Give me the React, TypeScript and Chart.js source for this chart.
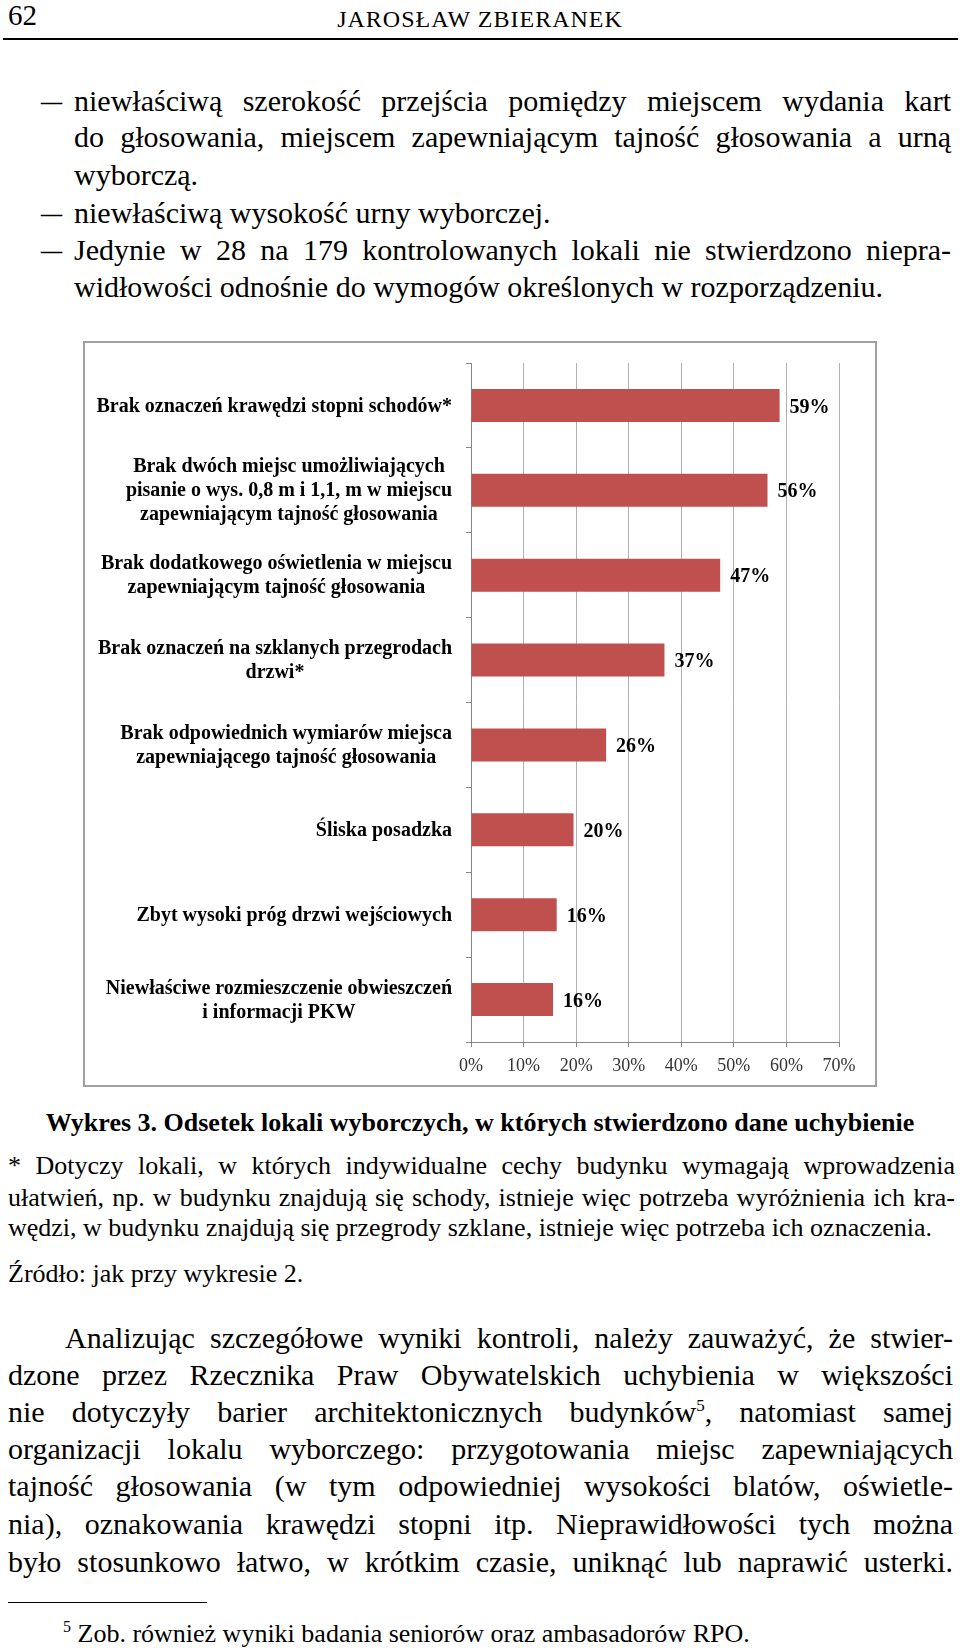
import React, { useEffect, useRef } from 'react';
import { Chart, registerables } from 'chart.js';

Chart.register(...registerables);

const FAMILY = "'Liberation Serif', 'Times New Roman', serif";

// ---- chart data ----
const categories: string[][] = [
  ['Brak oznaczeń krawędzi stopni schodów*'],
  ['Brak dwóch miejsc umożliwiających', 'pisanie o wys. 0,8 m i 1,1, m w miejscu', 'zapewniającym tajność głosowania'],
  ['Brak dodatkowego oświetlenia w miejscu', 'zapewniającym tajność głosowania'],
  ['Brak oznaczeń na szklanych przegrodach', 'drzwi*'],
  ['Brak odpowiednich wymiarów miejsca', 'zapewniającego tajność głosowania'],
  ['Śliska posadzka'],
  ['Zbyt wysoki próg drzwi wejściowych'],
  ['Niewłaściwe rozmieszczenie obwieszczeń', 'i informacji PKW'],
];
const values: number[] = [58.7, 56.4, 47.4, 36.8, 25.7, 19.5, 16.3, 15.6];
const xMin = 0;
const xMax = 70;
const xStep = 10;

const BAR_COLOR = '#C0504D';

const labelPlugin = {
  id: 'pageLabels',
  afterDraw(chart: any) {
    const ctx = chart.ctx;
    const yScale = chart.scales.y;
    const meta = chart.getDatasetMeta(0);
    ctx.save();
    ctx.fillStyle = '#000';
    ctx.textBaseline = 'middle';
    ctx.font = `bold 20px ${FAMILY}`;
    ctx.textAlign = 'center';
    categories.forEach((lines, i) => {
      const cy = yScale.getPixelForValue(i);
      const maxW = Math.max(...lines.map((l) => ctx.measureText(l).width));
      const cx = chart.chartArea.left - 19 - maxW / 2;
      lines.forEach((l, j) => {
        ctx.fillText(l, cx, cy + 1 + (j - (lines.length - 1) / 2) * 24);
      });
    });
    ctx.textAlign = 'left';
    meta.data.forEach((bar: any, i: number) => {
      ctx.fillText(Math.round(values[i]) + '%', bar.x + 10, bar.y + 2);
    });
    ctx.restore();
  },
};

type LineProps = {
  top: number;
  left: number;
  width?: number;
  size: number;
  lh: number;
  justify?: boolean;
  bold?: boolean;
  center?: boolean;
  children: React.ReactNode;
};

function Line({ top, left, width, size, lh, justify, bold, center, children }: LineProps) {
  return (
    <div
      style={{
        position: 'absolute',
        top,
        left,
        width,
        fontSize: size,
        lineHeight: lh + 'px',
        height: lh,
        fontWeight: bold ? 'bold' : 'normal',
        textAlign: justify ? 'justify' : center ? 'center' : 'left',
        textAlignLast: justify ? 'justify' : center ? 'center' : 'left',
        whiteSpace: justify ? 'normal' : 'nowrap',
        color: '#000',
      } as React.CSSProperties}
    >
      {children}
    </div>
  );
}

function Dash({ top }: { top: number }) {
  return (
    <div
      style={{
        position: 'absolute',
        top,
        left: 40,
        width: 23,
        fontSize: 30,
        lineHeight: '37px',
        textAlign: 'center',
      }}
    >
      <span style={{ display: 'inline-block', transform: 'scaleX(1.4)' }}>–</span>
    </div>
  );
}

export default function App() {
  const ref = useRef<HTMLCanvasElement>(null);

  useEffect(() => {
    const chart = new Chart(ref.current as HTMLCanvasElement, {
      type: 'bar',
      data: {
        labels: categories.map((c) => c.join(' ')),
        datasets: [
          {
            data: values,
            backgroundColor: BAR_COLOR,
            borderWidth: 0,
            barPercentage: 0.78,
            categoryPercentage: 0.5,
          },
        ],
      },
      options: {
        indexAxis: 'y',
        responsive: false,
        maintainAspectRatio: false,
        animation: false,
        devicePixelRatio: 1,
        layout: { padding: { top: 20, right: 36, left: 0, bottom: 0 } },
        plugins: { legend: { display: false }, tooltip: { enabled: false } },
        scales: {
          x: {
            min: xMin,
            max: xMax,
            ticks: {
              stepSize: xStep,
              callback: (v: any) => v + '%',
              font: { family: FAMILY, size: 18 },
              color: '#333',
              padding: 8,
              maxRotation: 0,
            },
            grid: { color: '#b0b0b0', tickLength: 5, tickColor: '#868686' },
            border: { color: '#868686' },
            afterFit: (s: any) => {
              s.height = 43;
            },
          },
          y: {
            ticks: { display: false },
            grid: { drawOnChartArea: false, offset: true, tickLength: 5, color: '#868686' },
            border: { color: '#868686' },
            afterFit: (s: any) => {
              s.width = 386;
            },
          },
        },
      } as any,
      plugins: [labelPlugin],
    });
    return () => chart.destroy();
  }, []);

  const body = 30;
  const bodyLh = 37;
  const small = 26;
  const smallLh = 31;

  return (
    <div
      style={{
        position: 'absolute',
        left: 0,
        top: 0,
        width: 960,
        height: 1651,
        background: '#fff',
        fontFamily: FAMILY,
        color: '#000',
        overflow: 'hidden',
      }}
    >
      {/* header */}
      <Line top={-1} left={8} size={29} lh={32}>62</Line>
      <div
        style={{
          position: 'absolute',
          top: 4,
          left: 0,
          width: 960,
          textAlign: 'center',
          fontSize: 24,
          lineHeight: '30px',
          letterSpacing: 1,
        }}
      >
        JAROSŁAW ZBIERANEK
      </div>
      <div style={{ position: 'absolute', top: 38, left: 3, width: 955, height: 2, background: '#000' }} />

      {/* bullet list */}
      <Dash top={82} />
      <Line top={82} left={74} width={877} size={body} lh={bodyLh} justify>
        niewłaściwą szerokość przejścia pomiędzy miejscem wydania kart
      </Line>
      <Line top={118} left={74} width={877} size={body} lh={bodyLh} justify>
        do głosowania, miejscem zapewniającym tajność głosowania a urną
      </Line>
      <Line top={156} left={74} size={body} lh={bodyLh}>
        wyborczą.
      </Line>
      <Dash top={194} />
      <Line top={194} left={74} size={body} lh={bodyLh}>
        niewłaściwą wysokość urny wyborczej.
      </Line>
      <Dash top={231} />
      <Line top={231} left={74} width={877} size={body} lh={bodyLh} justify>
        Jedynie w 28 na 179 kontrolowanych lokali nie stwierdzono niepra-
      </Line>
      <Line top={268} left={74} size={body} lh={bodyLh}>
        widłowości odnośnie do wymogów określonych w rozporządzeniu.
      </Line>

      {/* chart */}
      <div
        style={{
          position: 'absolute',
          left: 83,
          top: 341,
          width: 794,
          height: 746,
          border: '2px solid #a0a0a0',
          boxSizing: 'border-box',
          background: '#fff',
        }}
      >
        <canvas ref={ref} width={790} height={742} style={{ display: 'block', width: 790, height: 742 }} />
      </div>

      {/* caption */}
      <Line top={1107} left={0} width={960} size={26} lh={32} bold center>
        Wykres 3. Odsetek lokali wyborczych, w których stwierdzono dane uchybienie
      </Line>
      <Line top={1150} left={8} width={947} size={small} lh={smallLh} justify>
        * Dotyczy lokali, w których indywidualne cechy budynku wymagają wprowadzenia
      </Line>
      <Line top={1182} left={8} width={947} size={small} lh={smallLh} justify>
        ułatwień, np. w budynku znajdują się schody, istnieje więc potrzeba wyróżnienia ich kra-
      </Line>
      <Line top={1212} left={8} size={small} lh={smallLh}>
        wędzi, w budynku znajdują się przegrody szklane, istnieje więc potrzeba ich oznaczenia.
      </Line>
      <Line top={1258} left={8} size={small} lh={smallLh}>
        Źródło: jak przy wykresie 2.
      </Line>

      {/* paragraph */}
      <Line top={1319} left={65} width={888} size={body} lh={bodyLh} justify>
        Analizując szczegółowe wyniki kontroli, należy zauważyć, że stwier-
      </Line>
      <Line top={1356} left={8} width={945} size={body} lh={bodyLh} justify>
        dzone przez Rzecznika Praw Obywatelskich uchybienia w większości
      </Line>
      <Line top={1393} left={8} width={945} size={body} lh={bodyLh} justify>
        nie dotyczyły barier architektonicznych budynków
        <sup style={{ fontSize: 17, lineHeight: 0 }}>5</sup>, natomiast samej
      </Line>
      <Line top={1430} left={8} width={945} size={body} lh={bodyLh} justify>
        organizacji lokalu wyborczego: przygotowania miejsc zapewniających
      </Line>
      <Line top={1467} left={8} width={945} size={body} lh={bodyLh} justify>
        tajność głosowania (w tym odpowiedniej wysokości blatów, oświetle-
      </Line>
      <Line top={1505} left={8} width={945} size={body} lh={bodyLh} justify>
        nia), oznakowania krawędzi stopni itp. Nieprawidłowości tych można
      </Line>
      <Line top={1543} left={8} width={945} size={body} lh={bodyLh} justify>
        było stosunkowo łatwo, w krótkim czasie, uniknąć lub naprawić usterki.
      </Line>

      {/* footnote */}
      <div style={{ position: 'absolute', top: 1602, left: 8, width: 199, height: 1, background: '#000' }} />
      <Line top={1618} left={63} size={26} lh={31}>
        <sup style={{ fontSize: 16, lineHeight: 0 }}>5</sup> Zob. również wyniki badania seniorów oraz ambasadorów RPO.
      </Line>
    </div>
  );
}
